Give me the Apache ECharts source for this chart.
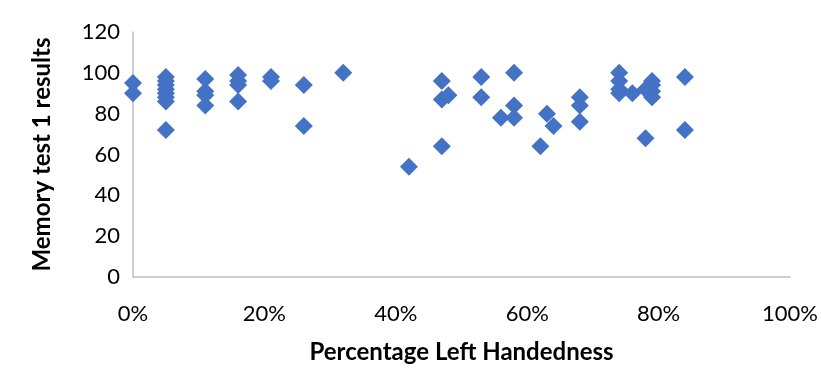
<!DOCTYPE html>
<html><head><meta charset="utf-8">
<script src="https://cdn.jsdelivr.net/npm/echarts@6/dist/echarts.min.js"></script>
<style>html,body{margin:0;padding:0;background:#fff}#c{width:821px;height:369px}</style>
</head><body><div id="c"></div>
<script>
var leftHandedPct = [0,0,5,5,5,5,5,5,5,5,11,11,11,11,16,16,16,16,21,21,26,26,32,42,47,47,48,47,53,53,56,58,58,58,62,63,64,68,68,68,74,74,74,74,76,78,79,79,79,79,78,84,84];
var memoryScore   = [95,90,98,96,94,92,90,88,86,72,97,91,89,84,99,96,94,86,98,96,94,74,100,54,96,87,89,64,98,88,78,100,84,78,64,80,74,88,84,76,100,96,92,90,90,68,96,94,91,88,92,98,72];
var xTicks = {min:0, max:1, step:0.2};
var yTicks = {min:0, max:120, step:20};
var xTitle = "Percentage Left Handedness";
var yTitle = "Memory test 1 results";

var pts = leftHandedPct.map(function(p,i){return [p/100, memoryScore[i]];});
var font = "Lato, 'Open Sans', sans-serif";
var chart = echarts.init(document.getElementById('c'));
chart.setOption({
  animation:false,
  grid:{left:133,right:16,top:32,bottom:84,containLabel:false},
  xAxis:{type:'value',min:xTicks.min,max:xTicks.max,interval:xTicks.step,
    name:xTitle,nameLocation:'middle',nameGap:63,
    nameTextStyle:{fontFamily:font,fontWeight:'bold',fontSize:24,color:'#000'},
    axisLine:{show:true,lineStyle:{color:'#bfbfbf',width:1.5}},
    axisTick:{show:false},splitLine:{show:false},
    axisLabel:{margin:26,fontFamily:font,fontSize:22,color:'#000',
      formatter:function(v){return Math.round(v*100)+'%';}}},
  yAxis:{type:'value',min:yTicks.min,max:yTicks.max,interval:yTicks.step,
    name:yTitle,nameLocation:'middle',nameGap:79,
    nameTextStyle:{fontFamily:font,fontWeight:'bold',fontSize:24,color:'#000'},
    axisLine:{show:true,lineStyle:{color:'#bfbfbf',width:1.5}},
    axisTick:{show:false},splitLine:{show:false},
    axisLabel:{margin:13,fontFamily:font,fontSize:22,color:'#000'}},
  series:[{type:'scatter',data:pts,symbol:'diamond',symbolSize:18,
    itemStyle:{color:'#4472C4',opacity:1}}]
});
</script></body></html>
